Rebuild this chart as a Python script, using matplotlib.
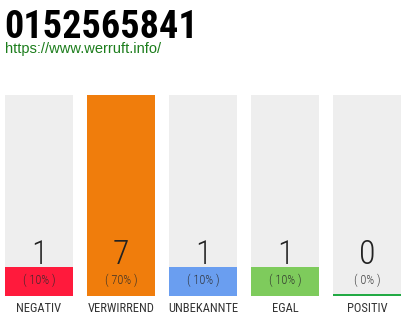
import matplotlib
matplotlib.use("Agg")
import matplotlib.pyplot as plt
from matplotlib import font_manager
from matplotlib.transforms import blended_transform_factory

title = "0152565841"
url = "https://www.werruft.info/"
categories = ["NEGATIV", "VERWIRREND", "UNBEKANNTE", "EGAL", "POSITIV"]
counts = [1, 7, 1, 1, 0]
percents = ["( 10% )", "( 70% )", "( 10% )", "( 10% )", "( 0% )"]
colors = ["#ff1a3c", "#f07d0c", "#6a9ef0", "#7ecb5c", "#22aa44"]
track_color = "#eeeeee"

# pick a condensed face if one is installed
fonts = font_manager.fontManager.ttflist
names = {f.name for f in fonts}
narrow_family = None
for cand in ["Roboto Condensed", "Liberation Sans Narrow", "Open Sans Condensed",
             "Noto Sans Condensed", "Archivo Narrow"]:
    if cand in names:
        narrow_family = cand
        break
if narrow_family is not None:
    narrow = dict(family=[narrow_family, "DejaVu Sans"])
else:
    narrow = dict(family=["DejaVu Sans"], fontstretch="condensed")

W, H = 410, 320
fig = plt.figure(figsize=(W / 100, H / 100), dpi=100)

fig.text(4 / W, 1 - 38 / H, title, ha="left", va="baseline", fontsize=27.5,
         fontweight="bold", color="#000000", **narrow)
fig.text(5 / W, 1 - 49.5 / H, url, ha="left", va="center", fontsize=10.5,
         family=["Liberation Sans", "DejaVu Sans"], color="#1c7d1c")

# plotting area: columns between y=95 and y=296 px
ax = fig.add_axes([5 / W, (H - 296) / H, 396 / W, 201 / H])
step = 82.0
ax.set_xlim(-34 / step, 362 / step)
vmax = max(counts)
ax.set_ylim(0, vmax)
ax.axis("off")

width = 68 / step
xs = range(len(categories))
ax.bar(xs, [vmax] * len(categories), width=width, color=track_color, zorder=1)
min_h = vmax * 2 / 201
ax.bar(xs, [max(c, min_h) for c in counts], width=width, color=colors, zorder=2)

trans = blended_transform_factory(ax.transData, fig.transFigure)
for i, (c, p, cat) in enumerate(zip(counts, percents, categories)):
    ax.text(i, 1 - 264 / H, str(c), transform=trans, ha="center", va="baseline",
            fontsize=24.5, fontweight="light", color="#222222", zorder=3, **narrow)
    ax.text(i, 1 - 280 / H, p, transform=trans, ha="center", va="center",
            fontsize=8.8, fontweight="light", color="#2a2a2a", alpha=0.9,
            zorder=3, **narrow)
    ax.text(i, 1 - 312 / H, cat, transform=trans, ha="center", va="baseline",
            fontsize=9, color="#333333", zorder=3, **narrow)

fig.savefig("out.png", dpi=100, facecolor="white")
